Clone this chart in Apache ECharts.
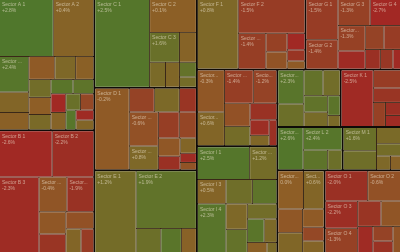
<!DOCTYPE html>
<html>
<head>
<meta charset="utf-8">
<script src="https://cdn.jsdelivr.net/npm/echarts@6/dist/echarts.min.js"></script>
<style>
html,body{margin:0;padding:0;background:#120d0a;}
#c{width:400px;height:252px;}
</style>
</head>
<body>
<div id="c"></div>
<script>
// Sector names
const groupNames = ['Sector A','Sector B','Sector C','Sector D','Sector E','Sector F','Sector G','Sector H','Sector I','Sector J','Sector K','Sector L','Sector M','Sector N','Sector O'];

// Leaf sizes (area weights) and changes (%) per group
const g01Size = [3074, 2320, 1050, 600, 510, 600, 480, 420, 400, 380, 340, 320, 300, 280, 260, 240, 220, 200, 180, 176];
const g01Chg  = [2.8, 0.4, 2.4, 0.6, 0.2, -0.2, 0.8, 0.2, 1.3, 0.0, 1.0, 2.2, 2.0, -2.6, 0.4, 1.6, -1.0, 2.4, -2.4, 0.6];
const g02Size = [2440, 1930, 3000, 980, 945, 600, 500, 480, 360, 305];
const g02Chg  = [-2.6, -2.2, -2.3, -0.4, -1.9, -0.3, -1.8, -0.6, 0.6, -1.5];
const g03Size = [4840, 1551, 900, 510, 400, 350, 250, 175];
const g03Chg  = [2.5, 0.1, 1.6, 0.4, 1.0, 0.7, 1.8, 1.2];
const g04Size = [2835, 600, 600, 408, 1000, 700, 550, 450, 400, 300, 250, 150, 121];
const g04Chg  = [-0.2, -1.2, 0.9, -1.8, -0.6, 0.8, -1.4, -1.1, -0.3, -2.0, 0.6, -2.3, -0.5];
const g05Size = [3400, 3500, 600, 500, 364];
const g05Chg  = [1.2, 1.9, 1.5, 2.2, 0.3];
const g06Size = [2870, 2275, 1000, 400, 370, 300, 200, 145];
const g06Chg  = [0.8, -1.5, -1.4, -1.3, -0.5, -2.6, -1.8, -0.2];
const g07Size = [1300, 950, 850, 800, 700, 500, 450, 400, 300, 250, 150];
const g07Chg  = [-1.5, -1.4, -1.3, -2.7, -1.3, -2.4, -1.2, -1.5, -2.0, -1.7, -2.5];
const g08Size = [1150, 920, 970, 790, 600, 500, 450, 300, 200, 200];
const g08Chg  = [-0.3, 0.6, -1.4, -1.2, -0.6, 1.2, -1.9, -2.2, 0.7, -2.0];
const g09Size = [1730, 900, 700, 1400, 650, 600, 550, 500, 450, 400, 300, 200, 100];
const g09Chg  = [2.5, 1.2, 0.5, 2.3, 1.4, 2.0, 0.8, 1.8, 1.3, 2.2, 0.9, 0.2, 1.0];
const g10Size = [900, 600, 500, 450, 400, 350, 250, 141];
const g10Chg  = [2.3, 1.5, 1.8, 1.3, 1.9, 1.1, 2.1, 1.0];
const g11Size = [1850, 500, 400, 300, 200, 170];
const g11Chg  = [-2.5, -1.5, -1.8, -1.3, -2.1, -2.4];
const g12Size = [1100, 900, 500, 295];
const g12Chg  = [2.6, 2.4, 2.0, 1.5];
const g13Size = [800, 650, 400, 300, 200, 144];
const g13Chg  = [1.6, 1.4, 1.0, 1.2, 0.8, 0.3];
const g14Size = [1000, 800, 600, 500, 400, 300, 254];
const g14Chg  = [0.0, 0.6, -0.3, 0.7, -0.2, -1.0, 0.5];
const g15Size = [1300, 1000, 900, 800, 600, 500, 400, 300, 232, 200];
const g15Chg  = [-2.0, -0.6, -2.2, -1.3, -1.8, -0.4, -2.4, -1.2, -1.9, -0.5];

const sizes = [g01Size,g02Size,g03Size,g04Size,g05Size,g06Size,g07Size,g08Size,g09Size,g10Size,g11Size,g12Size,g13Size,g14Size,g15Size];
const changes = [g01Chg,g02Chg,g03Chg,g04Chg,g05Chg,g06Chg,g07Chg,g08Chg,g09Chg,g10Chg,g11Chg,g12Chg,g13Chg,g14Chg,g15Chg];

const stops = [[-3,[166,36,36]],[-2,[154,48,36]],[-1,[148,72,38]],[0,[142,94,38]],[1,[122,106,40]],[2,[94,116,42]],[3,[76,120,44]]];
function colorOf(v){
  v = Math.max(-3, Math.min(3, v));
  for (let i=0;i<stops.length-1;i++){
    const a=stops[i], b=stops[i+1];
    if (v<=b[0]) {
      const t=(v-a[0])/(b[0]-a[0]);
      const c=a[1].map((x,k)=>Math.round(x+(b[1][k]-x)*t));
      return 'rgb('+c.join(',')+')';
    }
  }
  return 'rgb(76,120,44)';
}

const data = groupNames.map((g, gi) => ({
  name: g,
  children: sizes[gi].map((s, li) => ({
    name: g + ' ' + (li + 1),
    value: s,
    chg: changes[gi][li],
    itemStyle: { color: colorOf(changes[gi][li]) }
  }))
}));

const chart = echarts.init(document.getElementById('c'), null, {renderer:'canvas'});
chart.setOption({
  backgroundColor: '#120d0a',
  animation: false,
  series: [{
    type: 'treemap',
    left: 0, top: 0, right: 0, bottom: 0,
    width: '100%', height: '100%',
    roam: false,
    nodeClick: false,
    sort: false,
    squareRatio: 1,
    breadcrumb: { show: false },
    emphasis: { disabled: true },
    upperLabel: { show: false },
    label: {
      show: true,
      position: 'insideTopLeft',
      fontFamily: 'Liberation Sans',
      fontSize: 5,
      lineHeight: 6,
      color: 'rgba(240,230,210,0.6)',
      padding: [2, 2],
      formatter: function (p) {
        if (p.value < 700) return '';
        const c = p.data.chg;
        return p.name + '\n' + (c > 0 ? '+' : '') + c.toFixed(1) + '%';
      }
    },
    levels: [
      { itemStyle: { borderWidth: 0, gapWidth: 2, borderColor: '#0f0b08' } },
      { itemStyle: { borderWidth: 0, gapWidth: 1, borderColor: '#3a2818' } },
      { itemStyle: { borderWidth: 0 } }
    ],
    data: data
  }]
});
</script>
</body>
</html>
